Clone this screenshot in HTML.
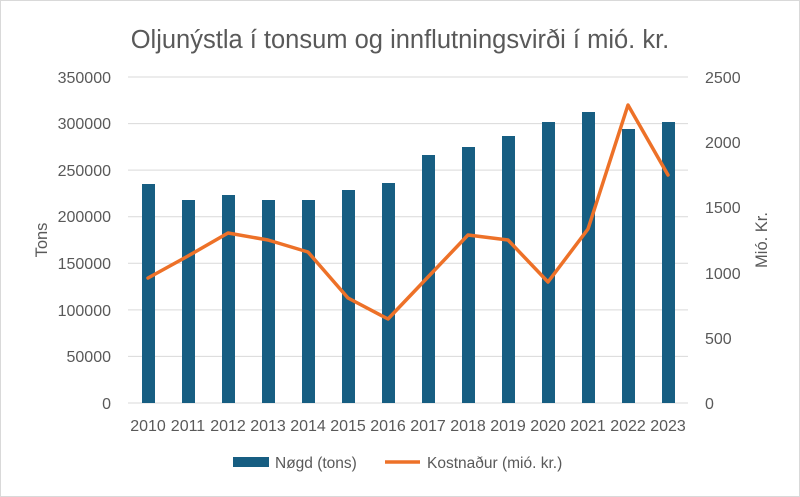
<!DOCTYPE html>
<html><head><meta charset="utf-8"><style>
body{margin:0;background:#fff}
svg{display:block}
text{font-family:"Liberation Sans",sans-serif;fill:#595959}
</style></head><body>
<svg width="800" height="497" viewBox="0 0 800 497">
<rect x="0.5" y="0.5" width="799" height="496" fill="#fff" stroke="#d9d9d9"/>
<text x="400" y="48" font-size="25.5" text-anchor="middle">Oljunýstla í tonsum og innflutningsvirði í mió. kr.</text>
<g stroke="#d9d9d9" stroke-width="1">
<line x1="128" x2="688" y1="77" y2="77"/><line x1="128" x2="688" y1="123.6" y2="123.6"/>
<line x1="128" x2="688" y1="170.1" y2="170.1"/><line x1="128" x2="688" y1="216.7" y2="216.7"/>
<line x1="128" x2="688" y1="263.3" y2="263.3"/><line x1="128" x2="688" y1="309.9" y2="309.9"/>
<line x1="128" x2="688" y1="356.4" y2="356.4"/><line x1="128" x2="688" y1="403" y2="403"/>
</g>
<g font-size="16" text-anchor="end">
<text x="111" y="83">350000</text><text x="111" y="129">300000</text><text x="111" y="176">250000</text>
<text x="111" y="222">200000</text><text x="111" y="269">150000</text><text x="111" y="316">100000</text>
<text x="111" y="362">50000</text><text x="111" y="409">0</text>
</g>
<g font-size="16">
<text x="705" y="83">2500</text><text x="705" y="148">2000</text><text x="705" y="213">1500</text>
<text x="705" y="279">1000</text><text x="705" y="344">500</text><text x="705" y="409">0</text>
</g>
<text transform="translate(47,240) rotate(-90)" font-size="16.5" text-anchor="middle">Tons</text>
<text transform="translate(767,240) rotate(-90)" font-size="16.5" text-anchor="middle">Mió. Kr.</text>
<g fill="#175e82">
<rect x="142" y="184" width="13" height="219"/><rect x="182" y="200" width="13" height="203"/>
<rect x="222" y="195" width="13" height="208"/><rect x="262" y="200" width="13" height="203"/>
<rect x="302" y="200" width="13" height="203"/><rect x="342" y="190" width="13" height="213"/>
<rect x="382" y="183" width="13" height="220"/><rect x="422" y="155" width="13" height="248"/>
<rect x="462" y="147" width="13" height="256"/><rect x="502" y="136" width="13" height="267"/>
<rect x="542" y="122" width="13" height="281"/><rect x="582" y="112" width="13" height="291"/>
<rect x="622" y="129" width="13" height="274"/><rect x="662" y="122" width="13" height="281"/>
</g>
<polyline fill="none" stroke="#ed7128" stroke-width="3.5" stroke-linejoin="round" stroke-linecap="round"
points="148,278 188,256 228,233 268,240 308,252 348,298 388,319 428,277 468,235 508,240 548,282 588,229 628,105 668,175"/>
<g font-size="16" text-anchor="middle">
<text x="148" y="431">2010</text><text x="188" y="431">2011</text><text x="228" y="431">2012</text>
<text x="268" y="431">2013</text><text x="308" y="431">2014</text><text x="348" y="431">2015</text>
<text x="388" y="431">2016</text><text x="428" y="431">2017</text><text x="468" y="431">2018</text>
<text x="508" y="431">2019</text><text x="548" y="431">2020</text><text x="588" y="431">2021</text>
<text x="628" y="431">2022</text><text x="668" y="431">2023</text>
</g>
<rect x="233" y="457" width="36" height="10" fill="#175e82"/>
<text x="275" y="468" font-size="15.5">Nøgd (tons)</text>
<line x1="385" x2="420" y1="462" y2="462" stroke="#ed7128" stroke-width="3.5"/>
<text x="427" y="468" font-size="15.5">Kostnaður (mió. kr.)</text>
</svg>
</body></html>
